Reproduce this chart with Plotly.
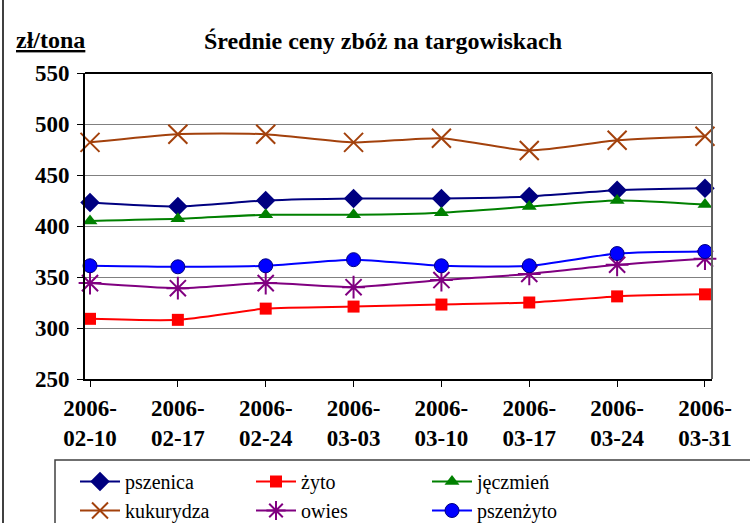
import plotly.graph_objects as go

dates = ["2006-02-10", "2006-02-17", "2006-02-24", "2006-03-03",
         "2006-03-10", "2006-03-17", "2006-03-24", "2006-03-31"]
tick_labels = ["2006-<br>" + d[5:] for d in dates]

pszenica = [423, 419, 425, 427, 427, 429, 435, 437]
zyto = [309, 308, 319, 321, 323, 325, 331, 333]
jeczmien = [405, 407, 411, 411, 413, 419, 425, 421]
kukurydza = [482, 490, 490, 482, 486, 474, 484, 488]
owies = [344, 339, 344, 340, 347, 353, 362, 368]
pszenzyto = [361, 360, 361, 367, 361, 361, 373, 375]

series = [
    ("pszenica", pszenica, "#000080", "diamond", 15, None),
    ("żyto", zyto, "#FF0000", "square", 12, None),
    ("jęczmień", jeczmien, "#008000", "triangle-up", 13, None),
    ("kukurydza", kukurydza, "#A3410C", "x-thin-open", 19, 2),
    ("owies", owies, "#800080", "asterisk-open", 19, 2),
    ("pszenżyto", pszenzyto, "#0000FF", "circle", 14, None),
]

SERIF = "Liberation Serif, Times New Roman, serif"

fig = go.Figure()
x = list(range(len(dates)))
for name, vals, color, sym, size, lw in series:
    marker = dict(symbol=sym, size=size, color=color)
    if lw:
        marker["line"] = dict(color=color, width=lw)
    elif name == "pszenżyto":
        marker["line"] = dict(color="#000080", width=1)
    else:
        marker["line"] = dict(width=0)
    fig.add_trace(go.Scatter(
        x=x, y=vals, name=name, mode="lines+markers",
        line=dict(color=color, width=2, shape="spline", smoothing=0.6),
        marker=marker, cliponaxis=False,
    ))

fig.update_layout(
    width=750, height=523,
    margin=dict(l=85, r=38, t=73, b=144, autoexpand=False),
    paper_bgcolor="white", plot_bgcolor="white",
    font=dict(family=SERIF, color="black"),
    showlegend=True,
    title=dict(text="<b>Średnie ceny zbóż na targowiskach</b>",
               x=383 / 750, xanchor="center", y=1 - 41 / 523, yanchor="middle",
               font=dict(size=24, family=SERIF, color="black")),
    xaxis=dict(
        range=[-0.057, 7.08], tickmode="array", tickvals=x, ticktext=tick_labels,
        tickfont=dict(size=23, family=SERIF, color="black", weight="bold"),
        showgrid=False, zeroline=False,
        showline=True, linecolor="black", linewidth=2, mirror=False,
        ticks="outside", ticklen=6, tickcolor="black", ticklabelstandoff=1,
    ),
    yaxis=dict(
        range=[250, 550], dtick=50, tick0=250,
        tickfont=dict(size=23, family=SERIF, color="black", weight="bold"),
        showgrid=True, gridcolor="#808080", gridwidth=1, zeroline=False,
        showline=True, linecolor="black", linewidth=2,
        ticks="outside", ticklen=6, tickcolor="black", ticklabelstandoff=3,
    ),
    legend=dict(
        orientation="h", x=(76 + 523 + 4 - 85) / 627, xanchor="right",
        y=-(462 - 379) / 306, yanchor="top",
        font=dict(size=20, family=SERIF, color="black"),
        entrywidth=121, entrywidthmode="pixels",
        bgcolor="rgba(0,0,0,0)", borderwidth=0, itemwidth=40,
        tracegroupgap=0,
    ),
    shapes=[
        dict(type="line", xref="paper", yref="paper", x0=0, x1=1, y0=1, y1=1,
             line=dict(color="black", width=2)),
        dict(type="line", xref="paper", yref="paper", x0=1, x1=1, y0=0, y1=1,
             line=dict(color="#606060", width=2)),
        dict(type="rect", xref="paper", yref="paper",
             x0=(55 - 85) / 627, x1=(760 - 85) / 627,
             y0=-(530 - 379) / 306, y1=-(460 - 379) / 306,
             line=dict(color="#404040", width=1.5), fillcolor="rgba(0,0,0,0)"),
        dict(type="line", xref="paper", yref="paper",
             x0=(3 - 85) / 627, x1=(3 - 85) / 627, y0=-0.5, y1=1.3,
             line=dict(color="#404040", width=2)),
    ],
    annotations=[
        dict(text="<b><u>zł/tona</u></b>", xref="paper", yref="paper",
             x=(14 - 85) / 627, xanchor="left", y=1 + (73 - 40) / 306, yanchor="middle",
             showarrow=False, font=dict(size=24, family=SERIF, color="black")),
    ],
)

fig.write_html("out.html", config={"displayModeBar": False},
               post_script="document.body.style.margin='0px';")
